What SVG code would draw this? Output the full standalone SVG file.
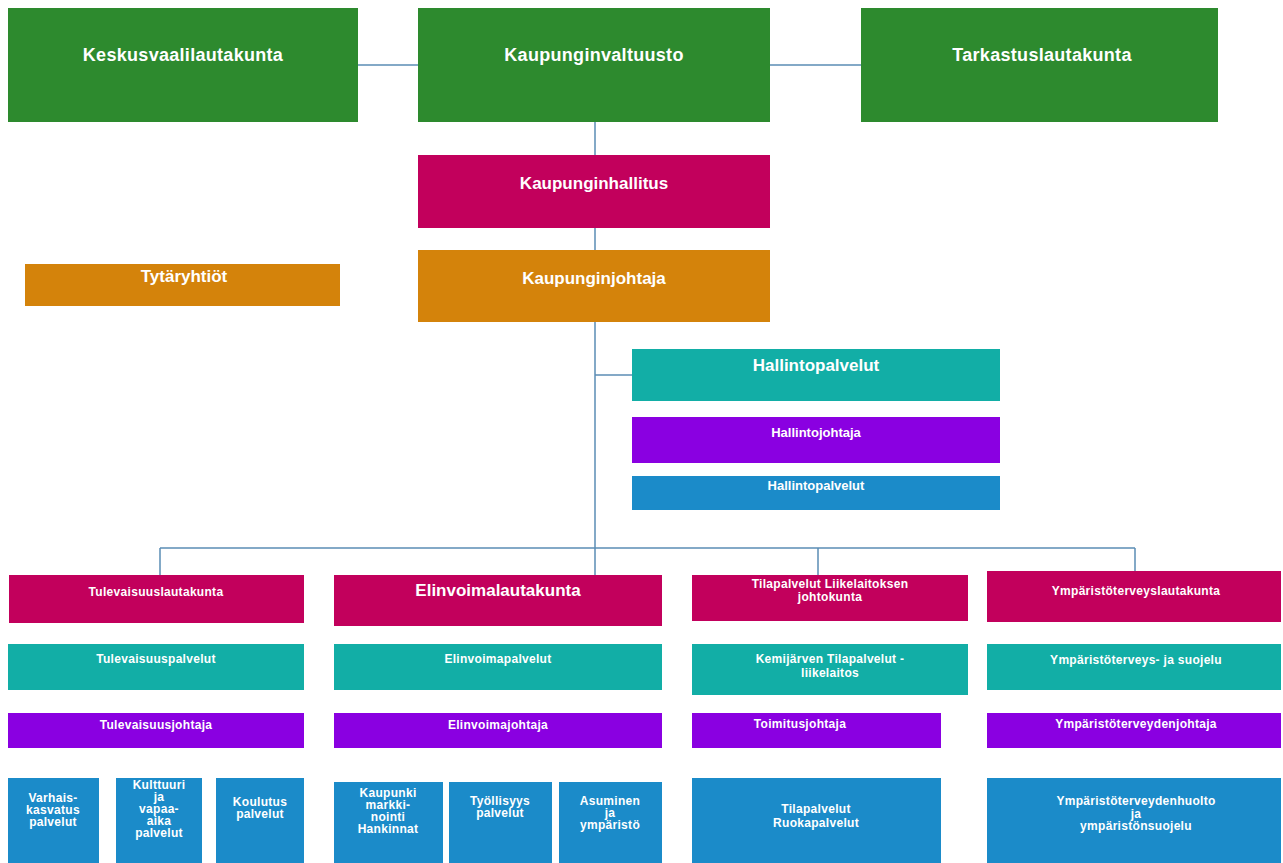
<svg xmlns="http://www.w3.org/2000/svg" width="1283" height="863" viewBox="0 0 1283 863">
<style>
text{font-family:"Liberation Sans",Arial,sans-serif;font-weight:bold;fill:#ffffff;text-anchor:middle}
.t18{font-size:18px;letter-spacing:0.3px}
.t17{font-size:17px}
.t13{font-size:13px}
.t12{font-size:12px;letter-spacing:0.3px}
.green{fill:#2d8a2e}
.mag{fill:#c2005c}
.orange{fill:#d4830b}
.teal{fill:#12aea6}
.purple{fill:#8a00e1}
.blue{fill:#1b8bc9}
.conn{stroke:#5b8db5;stroke-width:1.5;fill:none}
</style>
<rect width="1283" height="863" fill="#ffffff"/>
<g id="connectors">
<path class="conn" d="M358 65H418M770 65H861"/>
<path class="conn" d="M595 122V155M595 228V250M595 322V548"/>
<path class="conn" d="M595 375H632"/>
<path class="conn" d="M160 548H1135M160 548V575M595 548V575M818 548V575M1135 548V571"/>
</g>
<g id="keskusvaalilautakunta"><rect class="green" x="8" y="8" width="350" height="114"/><text class="t18" x="183" y="61">Keskusvaalilautakunta</text></g>
<g id="kaupunginvaltuusto"><rect class="green" x="418" y="8" width="352" height="114"/><text class="t18" x="594" y="61">Kaupunginvaltuusto</text></g>
<g id="tarkastuslautakunta"><rect class="green" x="861" y="8" width="357" height="114"/><text class="t18" x="1042" y="61">Tarkastuslautakunta</text></g>
<g id="kaupunginhallitus"><rect class="mag" x="418" y="155" width="352" height="73"/><text class="t17" x="594" y="189">Kaupunginhallitus</text></g>
<g id="kaupunginjohtaja"><rect class="orange" x="418" y="250" width="352" height="72"/><text class="t17" x="594" y="284">Kaupunginjohtaja</text></g>
<g id="tytaryhtiot"><rect class="orange" x="25" y="264" width="315" height="42"/><text class="t17" x="184" y="282">Tytäryhtiöt</text></g>
<g id="hallintopalvelut"><rect class="teal" x="632" y="349" width="368" height="52"/><text class="t17" x="816" y="371">Hallintopalvelut</text></g>
<g id="hallintojohtaja"><rect class="purple" x="632" y="417" width="368" height="46"/><text class="t13" x="816" y="437">Hallintojohtaja</text></g>
<g id="hallintopalvelut2"><rect class="blue" x="632" y="476" width="368" height="34"/><text class="t13" x="816" y="490">Hallintopalvelut</text></g>

<g id="tulevaisuuslautakunta"><rect class="mag" x="9" y="575" width="295" height="48"/><text class="t12" x="156" y="596">Tulevaisuuslautakunta</text></g>
<g id="tulevaisuuspalvelut"><rect class="teal" x="8" y="644" width="296" height="46"/><text class="t12" x="156" y="663">Tulevaisuuspalvelut</text></g>
<g id="tulevaisuusjohtaja"><rect class="purple" x="8" y="713" width="296" height="35"/><text class="t12" x="156" y="729">Tulevaisuusjohtaja</text></g>
<g id="varhaiskasvatus"><rect class="blue" x="8" y="778" width="91" height="85"/><text class="t12" x="53" y="802">Varhais-</text><text class="t12" x="53" y="814">kasvatus</text><text class="t12" x="53" y="826">palvelut</text></g>
<g id="kulttuuri"><rect class="blue" x="116" y="778" width="86" height="85"/><text class="t12" x="159" y="789">Kulttuuri</text><text class="t12" x="159" y="801">ja</text><text class="t12" x="159" y="813">vapaa-</text><text class="t12" x="159" y="825">aika</text><text class="t12" x="159" y="837">palvelut</text></g>
<g id="koulutus"><rect class="blue" x="216" y="778" width="88" height="85"/><text class="t12" x="260" y="806">Koulutus</text><text class="t12" x="260" y="818">palvelut</text></g>

<g id="elinvoimalautakunta"><rect class="mag" x="334" y="575" width="328" height="51"/><text class="t17" x="498" y="596">Elinvoimalautakunta</text></g>
<g id="elinvoimapalvelut"><rect class="teal" x="334" y="644" width="328" height="46"/><text class="t12" x="498" y="663">Elinvoimapalvelut</text></g>
<g id="elinvoimajohtaja"><rect class="purple" x="334" y="713" width="328" height="35"/><text class="t12" x="498" y="729">Elinvoimajohtaja</text></g>
<g id="kaupunkimarkkinointi"><rect class="blue" x="334" y="782" width="109" height="81"/><text class="t12" x="388" y="797">Kaupunki</text><text class="t12" x="388" y="809">markki-</text><text class="t12" x="388" y="821">nointi</text><text class="t12" x="388" y="833">Hankinnat</text></g>
<g id="tyollisyys"><rect class="blue" x="449" y="782" width="103" height="81"/><text class="t12" x="500" y="805">Työllisyys</text><text class="t12" x="500" y="817">palvelut</text></g>
<g id="asuminen"><rect class="blue" x="559" y="782" width="103" height="81"/><text class="t12" x="610" y="805">Asuminen</text><text class="t12" x="610" y="817">ja</text><text class="t12" x="610" y="829">ympäristö</text></g>

<g id="tilapalvelutjohtokunta"><rect class="mag" x="692" y="575" width="276" height="46"/><text class="t12" x="830" y="588">Tilapalvelut Liikelaitoksen</text><text class="t12" x="830" y="601">johtokunta</text></g>
<g id="kemijarventilapalvelut"><rect class="teal" x="692" y="644" width="276" height="51"/><text class="t12" x="830" y="663">Kemijärven Tilapalvelut -</text><text class="t12" x="830" y="677">liikelaitos</text></g>
<g id="toimitusjohtaja"><rect class="purple" x="692" y="713" width="249" height="35"/><text class="t12" x="800" y="728">Toimitusjohtaja</text></g>
<g id="tilapalvelutruoka"><rect class="blue" x="692" y="778" width="249" height="85"/><text class="t12" x="816" y="813">Tilapalvelut</text><text class="t12" x="816" y="827">Ruokapalvelut</text></g>

<g id="ymparistoterveyslautakunta"><rect class="mag" x="987" y="571" width="294" height="51"/><text class="t12" x="1136" y="595">Ympäristöterveyslautakunta</text></g>
<g id="ymparistoterveysjasuojelu"><rect class="teal" x="987" y="644" width="294" height="46"/><text class="t12" x="1136" y="664">Ympäristöterveys- ja suojelu</text></g>
<g id="ymparistoterveydenjohtaja"><rect class="purple" x="987" y="713" width="294" height="35"/><text class="t12" x="1136" y="728">Ympäristöterveydenjohtaja</text></g>
<g id="ymparistoterveydenhuolto"><rect class="blue" x="987" y="778" width="294" height="85"/><text class="t12" x="1136" y="805">Ympäristöterveydenhuolto</text><text class="t12" x="1136" y="818">ja</text><text class="t12" x="1136" y="830">ympäristönsuojelu</text></g>
</svg>
